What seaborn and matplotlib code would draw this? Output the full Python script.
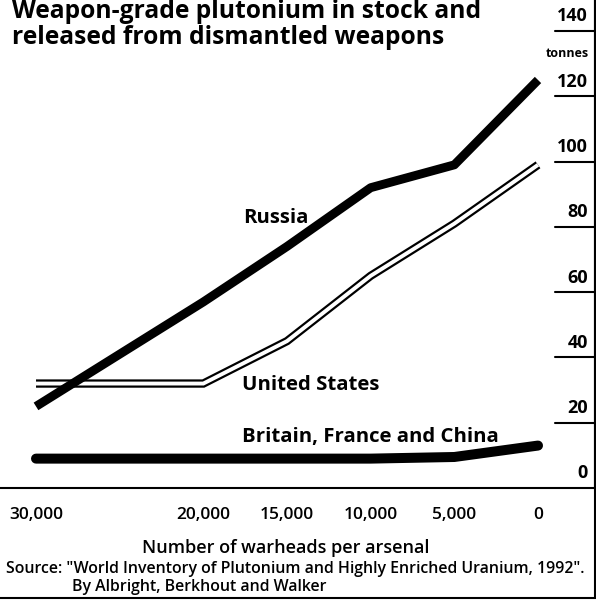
import pandas as pd
import seaborn as sns
import matplotlib.pyplot as plt
from matplotlib.lines import Line2D
import matplotlib.transforms as mtransforms

# chart data
warheads = [30000, 20000, 15000, 10000, 5000, 0]
russia = [25, 57, 74, 92, 99, 125]
united_states = [32, 32, 45, 65, 81, 99]
britain_france_china = [9, 9, 9, 9, 9.5, 13]
x_tick_labels = ['30,000', '20,000', '15,000', '10,000', '5,000', '0']
y_tick_values = [0, 20, 40, 60, 80, 100, 120, 140]

df = pd.DataFrame({
    'warheads': warheads,
    'Russia': russia,
    'United States': united_states,
    'Britain, France and China': britain_france_china,
})

sns.set_style('white')
plt.rcParams['font.family'] = ['Open Sans', 'DejaVu Sans']
plt.rcParams['text.color'] = 'black'

fig = plt.figure(figsize=(5.96, 6.01), dpi=100)
ax = fig.add_axes([0, 113 / 601, 595 / 596, 488 / 601])

# United States: hollow line (black outline, white core)
sns.lineplot(data=df, x='warheads', y='United States', color='black', lw=6,
             ax=ax, solid_capstyle='butt', solid_joinstyle='miter')
sns.lineplot(data=df, x='warheads', y='United States', color='white', lw=2.8,
             ax=ax, solid_capstyle='butt', solid_joinstyle='miter')
sns.lineplot(data=df, x='warheads', y='Russia', color='black', lw=6.4,
             ax=ax, solid_capstyle='butt')
sns.lineplot(data=df, x='warheads', y='Britain, France and China', color='black',
             lw=7.2, ax=ax, solid_capstyle='round')

ax.set_xlim(32152, -3406)
ax.set_ylim(0, 149.5)
ax.set_xticks(warheads)
ax.set_xticklabels(x_tick_labels)
ax.set_yticks([])
ax.set_xlabel('')
ax.set_ylabel('')
ax.tick_params(axis='x', direction='in', length=7, width=1.3, pad=14,
               labelsize=12.5, colors='black')
for lab in ax.get_xticklabels():
    lab.set_fontweight('semibold')

for side in ['left', 'top']:
    ax.spines[side].set_visible(False)
for side in ['bottom', 'right']:
    ax.spines[side].set_color('black')
    ax.spines[side].set_linewidth(1.5)

# right-hand value scale: short rules with labels sitting above them
blend = mtransforms.blended_transform_factory(ax.transAxes, ax.transData)
for v in y_tick_values:
    if v > 0:
        ax.axhline(v, xmin=555 / 595, xmax=1, color='black', lw=1.5)
    ax.annotate(str(v), xy=(588 / 595, v), xycoords=('axes fraction', 'data'),
                xytext=(0, 4), textcoords='offset points', ha='right',
                va='bottom', fontsize=13, fontweight='bold')
ax.text(589 / 595, 133, 'tonnes', transform=blend, ha='right', va='center',
        fontsize=9, fontweight='bold')

# series labels
ax.text(17630, 82.7, 'Russia', ha='left', va='center', fontsize=14.7,
        fontweight='bold')
ax.text(17690, 31.5, 'United States', ha='left', va='center', fontsize=14.7,
        fontweight='bold')
ax.text(17690, 15.6, 'Britain, France and China', ha='left', va='center',
        fontsize=14.7, fontweight='bold')

# title
fig.text(12 / 596, 1 - 18 / 601, 'Weapon-grade plutonium in stock and',
         ha='left', va='baseline', fontsize=17.7, fontweight='bold')
fig.text(12 / 596, 1 - 44 / 601, 'released from dismantled weapons',
         ha='left', va='baseline', fontsize=17.7, fontweight='bold')

fig.text(286 / 596, 1 - 548 / 601, 'Number of warheads per arsenal',
         ha='center', va='center', fontsize=13, fontweight='semibold')
fig.text(6 / 596, 1 - 569 / 601,
         'Source: "World Inventory of Plutonium and Highly Enriched Uranium, 1992".',
         ha='left', va='center', fontsize=11.4, fontweight='semibold')
fig.text(72 / 596, 1 - 587 / 601, 'By Albright, Berkhout and Walker',
         ha='left', va='center', fontsize=11.4, fontweight='semibold')

# frame lines on the right and bottom
fig.add_artist(Line2D([595 / 596, 595 / 596], [3 / 601, 1], color='black', lw=1.5))
fig.add_artist(Line2D([0, 1], [3 / 601, 3 / 601], color='black', lw=1.5))

fig.savefig('out.png', dpi=100)
